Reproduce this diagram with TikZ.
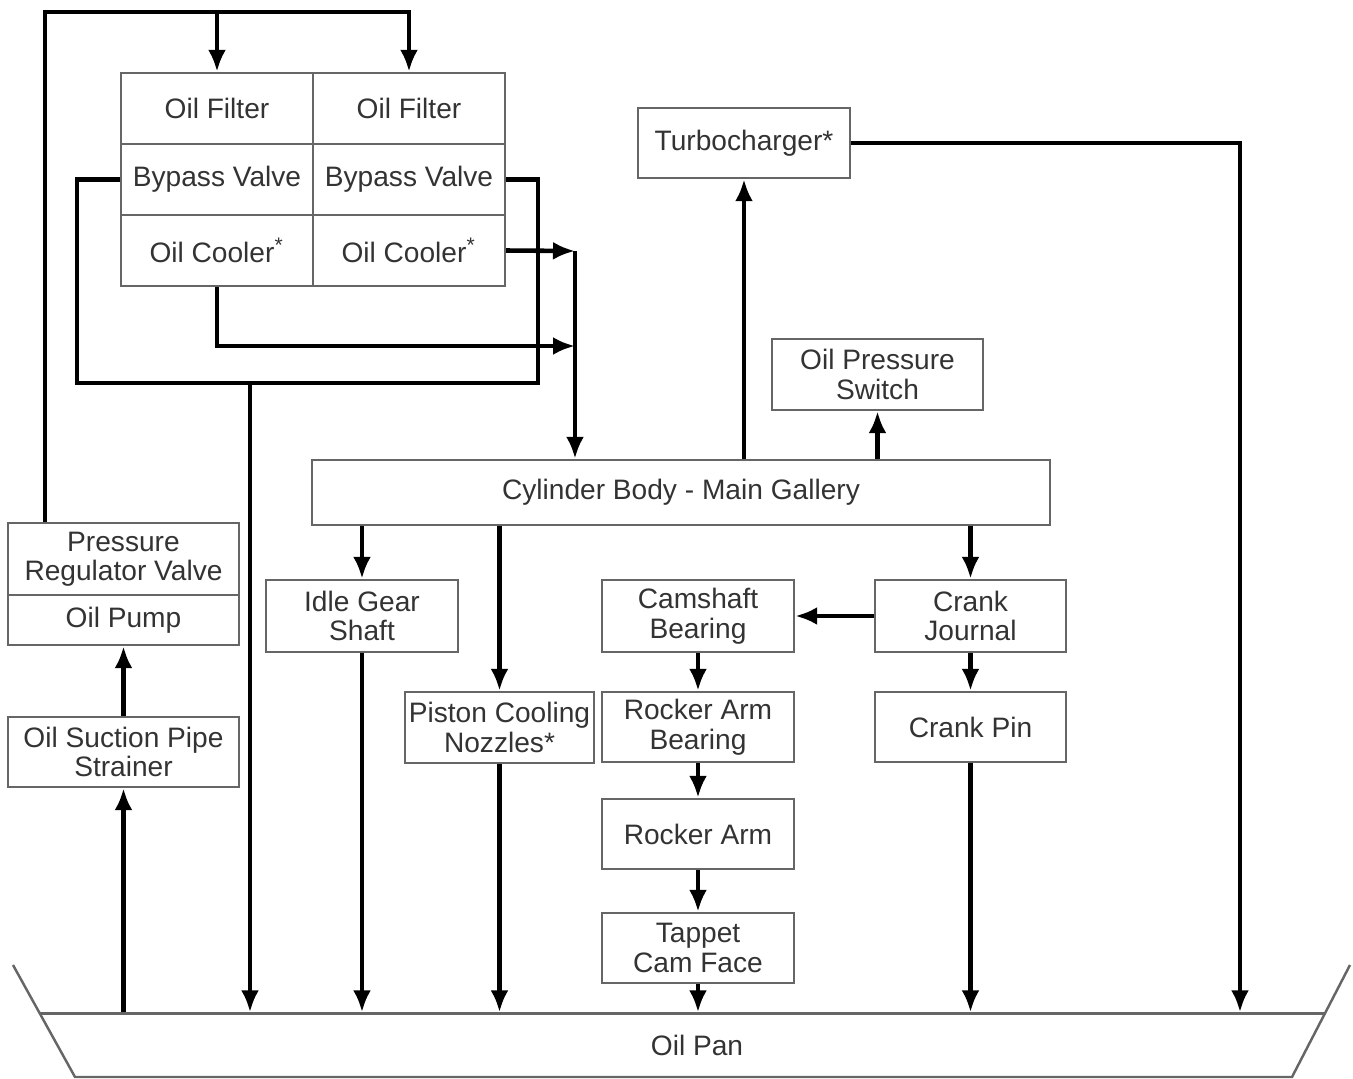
\documentclass[tikz,border=0pt]{standalone}
\usepackage{fontspec}
\setmainfont{Liberation Sans}
\usetikzlibrary{arrows.meta}
\definecolor{txtgray}{HTML}{333333}
\definecolor{boxgray}{HTML}{666666}
\tikzset{
  box/.style={draw=boxgray, line width=0.7pt, fill=white, inner sep=0pt, align=center,
    text=txtgray, font=\fontsize{8}{8.4}\selectfont, minimum width=1.92cm, minimum height=0.71cm},
  pipe/.style={line width=1.3pt, line join=miter},
  flow/.style={pipe, -{Latex[length=2.2mm,width=1.8mm]}},
  panline/.style={draw=boxgray, line width=0.7pt}
}
\begin{document}
\begin{tikzpicture}
    \useasboundingbox (0,0) rectangle (13.53,-10.79);
        \node[box] (f1) at (2.17,-1.085) {Oil Filter};
        \node[box] (f2) at (4.09,-1.085) {Oil Filter};
        \node[box] (b1) at (2.17,-1.795) {Bypass Valve};
        \node[box] (b2) at (4.09,-1.795) {Bypass Valve};
        \node[box] (c1) at (2.17,-2.505) {Oil Cooler\textsuperscript{*}};
        \node[box] (c2) at (4.09,-2.505) {Oil Cooler\textsuperscript{*}};
        \node[box, minimum width=2.31cm, minimum height=0.72cm] (preg) at (1.235,-5.59) {Pressure\\Regulator Valve};
        \node[box, minimum width=2.31cm, minimum height=0.50cm] (pump) at (1.235,-6.20) {Oil Pump};
        \node[box, minimum width=2.31cm, minimum height=0.70cm] (strainer) at (1.235,-7.52) {Oil Suction Pipe\\Strainer};
        \node[box, minimum width=7.38cm, minimum height=0.65cm] (cyl) at (6.81,-4.925) {Cylinder Body - Main Gallery};
        \node[box, minimum width=2.12cm, minimum height=0.70cm] (turbo) at (7.44,-1.43) {Turbocharger*};
        \node[box, minimum width=2.11cm] (ops) at (8.775,-3.745) {Oil Pressure\\Switch};
        \node[box, minimum height=0.72cm] (idle) at (3.62,-6.16) {Idle Gear\\Shaft};
        \node[box, minimum width=1.89cm] (piston) at (4.995,-7.275) {Piston Cooling\\Nozzles*};
        \node[box, minimum height=0.72cm] (cam) at (6.98,-6.16) {Camshaft\\Bearing};
        \node[box, minimum height=0.70cm] (rab) at (6.98,-7.27) {Rocker Arm\\Bearing};
        \node[box, minimum height=0.70cm] (ra) at (6.98,-8.34) {Rocker Arm};
        \node[box, minimum height=0.70cm] (tappet) at (6.98,-9.48) {Tappet\\Cam Face};
        \node[box, minimum width=1.91cm, minimum height=0.72cm] (cj) at (9.705,-6.16) {Crank\\Journal};
        \node[box, minimum width=1.91cm, minimum height=0.70cm] (cp) at (9.705,-7.27) {Crank Pin};
        \node[box, draw=none, fill=none, minimum height=0.63cm] (pan) at (6.97,-10.45) {Oil Pan};
        \draw[panline] (0.13,-9.65) -- (0.75,-10.77) -- (12.92,-10.77) -- (13.50,-9.65);
        \draw[panline] (0.40,-10.135) -- (13.25,-10.135);
        \coordinate (tl) at (0.45,-0.12);
        \coordinate (bl) at (0.77,-3.83);
        \coordinate (br) at (5.38,-3.83);
        \coordinate (bdrop) at (2.50,-3.83);
        \coordinate (jn) at (5.75,-2.51);
        \coordinate (cjn) at (5.75,-3.46);
        \coordinate (turbodrop) at (12.40,-1.40);
        \draw[flow] (preg.north -| tl) |- (f2.north |- tl) -- (f2.north);
        \draw[flow] (f1.north |- tl) -- (f1.north);
        \draw[pipe] (b1.west) -| (bl) -- (br) |- (b2.east);
        \draw[flow] (bdrop) -- (bdrop |- pan.north);
        \draw[flow] (c2.east) -- (jn);
        \draw[flow] (c1.south) |- (cjn);
        \draw[flow] (jn) -- (jn |- cyl.north);
        \draw[flow] (cyl.north -| turbo) -- (turbo.south);
        \draw[flow] (cyl.north -| ops) -- (ops.south);
        \draw[flow] (turbo.east) -- (turbo.east -| turbodrop) -- (turbodrop |- pan.north);
        \draw[flow] (strainer.north) -- (pump.south);
        \draw[flow] (pan.north -| strainer) -- (strainer.south);
        \draw[flow] (cyl.south -| idle) -- (idle.north);
        \draw[flow] (idle.south) -- (pan.north -| idle);
        \draw[flow] (cyl.south -| piston) -- (piston.north);
        \draw[flow] (piston.south) -- (pan.north -| piston);
        \draw[flow] (cyl.south -| cj) -- (cj.north);
        \draw[flow] (cj.west) -- (cam.east);
        \draw[flow] (cj.south) -- (cp.north);
        \draw[flow] (cp.south) -- (pan.north -| cp);
        \draw[flow] (cam.south) -- (rab.north);
        \draw[flow] (rab.south) -- (ra.north);
        \draw[flow] (ra.south) -- (tappet.north);
        \draw[flow] (tappet.south) -- (pan.north -| tappet);
    \end{tikzpicture}
\end{document}
